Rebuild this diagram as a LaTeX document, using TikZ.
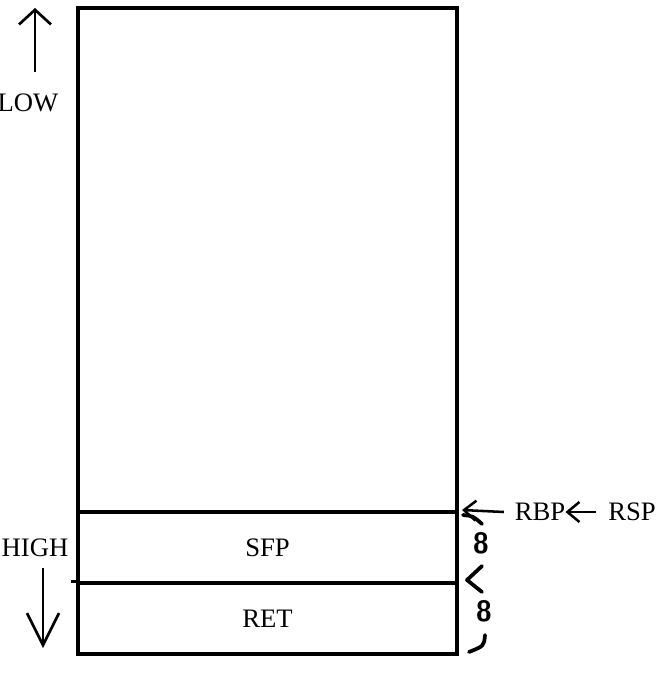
\documentclass[tikz,border=0pt]{standalone}
\usepackage{fontspec}
\setmainfont{Liberation Serif}
\usetikzlibrary{arrows.meta,positioning,calc}
\tikzset{
  cell/.style={rectangle, draw, line width=2.4pt, minimum width=284.25pt,
    inner sep=0pt, font=\fontsize{20}{24}\selectfont},
  label/.style={inner sep=0pt, font=\fontsize{20}{24}\selectfont},
  ptr/.style={-{Straight Barb[length=9pt, width=15pt, line width=1.9pt]}, line width=1.9pt},
  dirarrow/.style={-{Straight Barb[length=#1, width=24pt, line width=2pt]}, line width=2pt},
  dirarrow/.default=11pt,
  scribble/.style={line width=2.8pt, line cap=round, line join=round},
  digit/.style={inner sep=0pt, font=\fontsize{22}{24}\sffamily\bfseries\selectfont},
}
\begin{document}
\begin{tikzpicture}[x=0.75pt, y=-0.75pt]
  \useasboundingbox (0,0) rectangle (660,680);
  % stack frame
  \node[cell, minimum height=378pt] (frame) at (267.5,260) {};
  \node[cell, minimum height=53.25pt] (sfp) at (267.5,547.5) {SFP};
  \node[cell, minimum height=53.25pt] (ret) at (267.5,618.5) {RET};
  \draw[line width=2.4pt] (ret.north west) -- ++(-5,0);
  % address direction
  \node[label] (low) at (28,103) {LOW};
  \coordinate (lowtail) at (35,72);
  \coordinate (lowhead) at (35,8);
  \draw[dirarrow] (lowtail) -- (lowhead);
  \node[label] (high) at (35,548) {HIGH};
  \coordinate (hightail) at (43,568);
  \coordinate (highhead) at (43,648);
  \draw[dirarrow=24pt] (hightail) -- (highhead);
  % registers
  \node[label] (rbp) at (540,512) {RBP};
  \node[label] (rsp) at (632,512) {RSP};
  \coordinate (rbptip) at (462,510);
  \draw[ptr] ([xshift=-8pt]rbp.west) -- (rbptip);
  \draw[ptr] ([xshift=-9pt]rsp.west) -- (rbp.east);
  % sizes
  \draw[scribble] (463,515) .. controls (473,516) .. (482,524);
  \node[digit] (sz1) at (481,543) {8};
  \draw[scribble] (482,566) -- (467,580) -- (482,592);
  \node[digit] (sz2) at (484,611) {8};
  \draw[scribble] (485,635) .. controls (484,646) .. (469,652);
\end{tikzpicture}
\end{document}
